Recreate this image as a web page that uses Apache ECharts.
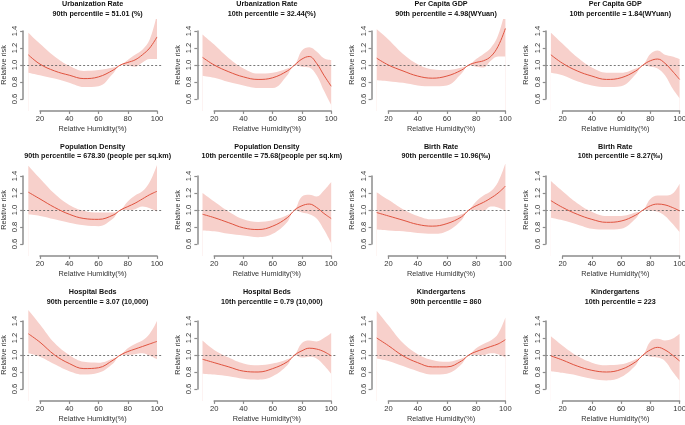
<!DOCTYPE html>
<html><head><meta charset="utf-8">
<script src="https://cdn.jsdelivr.net/npm/echarts@6/dist/echarts.min.js"></script>
<style>html,body{margin:0;padding:0;background:#fff}#c{width:685px;height:425px}</style>
</head><body><div id="c"></div>
<script>
const humidity = [12, 20, 30, 40, 50, 60, 70, 75, 80, 85, 90, 95, 100];
const xTicks = [20, 40, 60, 80, 100];
const yTicks = [0.6, 0.8, 1.0, 1.2, 1.4];
const yLim = [0.5, 1.5];
const refRisk = 1.0;

const titleMain = ['Urbanization Rate','Urbanization Rate','Per Capita GDP','Per Capita GDP',
  'Population Density','Population Density','Birth Rate','Birth Rate',
  'Hospital Beds','Hospital Beds','Kindergartens','Kindergartens'];
const titleSub = ['90th percentile = 51.01 (%)','10th percentile = 32.44(%)',
  '90th percentile = 4.98(WYuan)','10th percentile = 1.84(WYuan)',
  '90th percentile = 678.30 (people per sq.km)','10th percentile = 75.68(people per sq.km)',
  '90th percentile = 10.96(\u2030)','10th percentile = 8.27(\u2030)',
  '90th percentile = 3.07 (10,000)','10th percentile = 0.79 (10,000)',
  '90th percentile = 860','10th percentile = 223'];

const urb90Est = [1.12,1.01,0.93,0.88,0.84,0.86,0.94,1.00,1.03,1.06,1.12,1.20,1.33];
const urb90Lo  = [0.91,0.88,0.84,0.79,0.74,0.75,0.90,1.00,0.99,0.98,1.03,1.07,1.07];
const urb90Hi  = [1.38,1.25,1.10,0.99,0.93,0.94,0.97,1.00,1.06,1.12,1.18,1.30,1.60];

const urb10Est = [1.09,1.00,0.92,0.86,0.83,0.85,0.93,1.00,1.07,1.10,1.02,0.88,0.75];
const urb10Lo  = [0.875,0.85,0.80,0.76,0.73,0.73,0.88,1.00,0.98,0.97,0.88,0.70,0.53];
const urb10Hi  = [1.36,1.24,1.08,0.96,0.90,0.91,0.96,1.00,1.17,1.21,1.16,1.08,1.06];

const gdp90Est = [1.08,1.00,0.93,0.87,0.845,0.87,0.94,1.00,1.03,1.05,1.10,1.22,1.43];
const gdp90Lo  = [0.82,0.81,0.79,0.76,0.75,0.76,0.90,1.00,0.98,0.97,1.05,1.10,1.10];
const gdp90Hi  = [1.42,1.30,1.13,1.01,0.95,0.94,0.97,1.00,1.07,1.13,1.20,1.35,1.65];

const gdp10Est = [1.12,1.02,0.93,0.87,0.83,0.85,0.93,1.00,1.05,1.07,1.02,0.93,0.83];
const gdp10Lo  = [0.91,0.88,0.81,0.76,0.74,0.75,0.89,1.00,0.98,0.96,0.88,0.73,0.61];
const gdp10Hi  = [1.38,1.25,1.09,0.97,0.91,0.91,0.96,1.00,1.13,1.17,1.12,1.10,1.07];

const pop90Est = [1.21,1.13,1.03,0.95,0.90,0.89,0.94,1.00,1.04,1.08,1.13,1.18,1.22];
const pop90Lo  = [0.95,0.93,0.89,0.85,0.82,0.81,0.90,1.00,1.00,1.01,1.04,1.02,0.98];
const pop90Hi  = [1.52,1.37,1.19,1.06,0.99,0.97,0.97,1.00,1.10,1.17,1.22,1.33,1.53];

const pop10Est = [0.95,0.91,0.85,0.79,0.77,0.81,0.91,1.00,1.05,1.07,1.03,0.96,0.90];
const pop10Lo  = [0.76,0.75,0.72,0.70,0.68,0.72,0.86,1.00,0.97,0.95,0.90,0.77,0.61];
const pop10Hi  = [1.20,1.10,0.98,0.89,0.86,0.88,0.94,1.00,1.16,1.18,1.16,1.23,1.33];

const birth90Est = [0.97,0.93,0.88,0.83,0.81,0.84,0.92,1.00,1.05,1.09,1.14,1.20,1.28];
const birth90Lo  = [0.77,0.76,0.75,0.73,0.72,0.75,0.88,1.00,1.00,0.99,1.04,1.03,0.99];
const birth90Hi  = [1.21,1.12,1.01,0.93,0.89,0.91,0.95,1.00,1.10,1.17,1.22,1.33,1.55];

const birth10Est = [1.11,1.03,0.95,0.89,0.855,0.87,0.94,1.00,1.05,1.07,1.06,1.03,0.99];
const birth10Lo  = [0.91,0.88,0.83,0.78,0.77,0.78,0.90,1.00,0.99,0.98,0.93,0.84,0.74];
const birth10Hi  = [1.34,1.22,1.08,0.98,0.93,0.93,0.97,1.00,1.13,1.17,1.17,1.19,1.31];

const beds90Est = [1.25,1.15,1.00,0.90,0.84,0.85,0.94,1.00,1.04,1.07,1.10,1.13,1.16];
const beds90Lo  = [1.02,0.98,0.89,0.81,0.77,0.79,0.90,1.00,1.00,1.01,1.02,0.99,0.95];
const beds90Hi  = [1.53,1.36,1.14,1.00,0.92,0.91,0.96,1.00,1.08,1.13,1.17,1.25,1.40];

const beds10Est = [0.95,0.91,0.86,0.81,0.80,0.84,0.92,1.00,1.05,1.08,1.07,1.04,0.99];
const beds10Lo  = [0.78,0.77,0.75,0.72,0.71,0.75,0.88,1.00,0.97,0.98,0.96,0.88,0.78];
const beds10Hi  = [1.17,1.06,0.97,0.90,0.88,0.90,0.95,1.00,1.14,1.17,1.16,1.20,1.26];

const kind90Est = [1.20,1.11,0.99,0.91,0.86,0.86,0.93,1.00,1.04,1.07,1.10,1.13,1.18];
const kind90Lo  = [0.96,0.93,0.87,0.81,0.77,0.78,0.89,1.00,1.00,1.00,1.02,1.01,0.97];
const kind90Hi  = [1.52,1.35,1.14,1.01,0.94,0.92,0.96,1.00,1.08,1.13,1.17,1.25,1.44];

const kind10Est = [0.99,0.94,0.87,0.82,0.80,0.83,0.92,1.00,1.06,1.09,1.06,1.00,0.93];
const kind10Lo  = [0.81,0.79,0.76,0.72,0.70,0.74,0.88,1.00,0.98,0.97,0.93,0.81,0.70];
const kind10Hi  = [1.22,1.11,0.99,0.91,0.88,0.89,0.95,1.00,1.16,1.19,1.17,1.19,1.25];

const panels = [
  [urb90Est, urb90Lo, urb90Hi], [urb10Est, urb10Lo, urb10Hi],
  [gdp90Est, gdp90Lo, gdp90Hi], [gdp10Est, gdp10Lo, gdp10Hi],
  [pop90Est, pop90Lo, pop90Hi], [pop10Est, pop10Lo, pop10Hi],
  [birth90Est, birth90Lo, birth90Hi], [birth10Est, birth10Lo, birth10Hi],
  [beds90Est, beds90Lo, beds90Hi], [beds10Est, beds10Lo, beds10Hi],
  [kind90Est, kind90Lo, kind90Hi], [kind10Est, kind10Lo, kind10Hi]
];

// R-style 4% axis extension
const xr = humidity[humidity.length - 1] - humidity[0];
const xMin = humidity[0] - 0.04 * xr, xMax = humidity[humidity.length - 1] + 0.04 * xr;
const yr = yLim[1] - yLim[0];
const yMin = yLim[0] - 0.04 * yr, yMax = yLim[1] + 0.04 * yr;

const LINE = '#E0533F', BAND = '#F7D0CB', AXIS = '#8c8c8c', FONT = 'Liberation Sans, Arial, sans-serif';
const colStep = 174.2, rowStep = 145, pxPerX = 1.4625, pxPerY = 85;
const titleTop1 = [0.4, 143.4, 288.8], titleTop2 = [10.2, 152.8, 298.1];

const option = { animation: false, grid: [], xAxis: [], yAxis: [], series: [], title: [] };

panels.forEach((p, i) => {
  const c = i % 4, r = Math.floor(i / 4);
  const ox = c * colStep, y1 = 65 + r * rowStep;
  const px = v => 40 + ox + (v - xTicks[0]) * pxPerX;
  const py = v => y1 - (v - 1) * pxPerY;
  const gD = option.grid.length, gA = gD + 1;
  option.grid.push({ left: px(xMin), top: py(yMax), width: px(xMax) - px(xMin), height: py(yMin) - py(yMax),
    containLabel: false, outerBoundsMode: 'none' });
  option.grid.push({ left: px(xTicks[0]), top: py(yTicks[4]), width: px(xTicks[4]) - px(xTicks[0]),
    height: py(yTicks[0]) - py(yTicks[4]), containLabel: false, outerBoundsMode: 'none' });
  const ax = option.xAxis.length, ay = option.yAxis.length;
  option.xAxis.push({ gridIndex: gD, type: 'value', min: xMin, max: xMax, position: 'bottom',
    axisLine: { show: false, onZero: false }, axisTick: { show: false }, axisLabel: { show: false }, splitLine: { show: false },
    name: 'Relative Humidity(%)', nameLocation: 'middle', nameGap: 15,
    nameTextStyle: { fontSize: 7.3, color: '#333', fontFamily: FONT } });
  option.yAxis.push({ gridIndex: gD, type: 'value', min: yMin, max: yMax, position: 'left',
    axisLine: { show: false, onZero: false }, axisTick: { show: false }, axisLabel: { show: false }, splitLine: { show: false },
    name: 'Relative risk', nameLocation: 'middle', nameGap: 16,
    nameTextStyle: { fontSize: 7.3, color: '#333', fontFamily: FONT } });
  option.xAxis.push({ show: true, gridIndex: gA, type: 'value', position: 'bottom',
    min: xTicks[0], max: xTicks[4], interval: xTicks[1] - xTicks[0],
    offset: py(yMin) - py(yTicks[0]), z: 10,
    axisLine: { show: true, onZero: false, lineStyle: { color: AXIS, width: 1.5, opacity: 1 } },
    axisTick: { show: true, inside: false, length: 3, lineStyle: { color: AXIS, width: 1.2 } },
    axisLabel: { show: true, fontSize: 7.6, color: '#333', margin: 4, fontFamily: FONT },
    splitLine: { show: false } });
  option.yAxis.push({ show: true, gridIndex: gA, type: 'value', position: 'left',
    min: yTicks[0], max: yTicks[4], interval: 0.2,
    offset: px(xTicks[0]) - px(xMin), z: 10,
    axisLine: { show: true, onZero: false, lineStyle: { color: AXIS, width: 1.5, opacity: 1 } },
    axisTick: { show: true, inside: false, length: 3, lineStyle: { color: AXIS, width: 1.2 } },
    axisLabel: { show: true, fontSize: 7.6, color: '#333', margin: 4, rotate: 90, fontFamily: FONT,
      formatter: v => v.toFixed(1) },
    splitLine: { show: false } });
  const [est, lo, hi] = p;
  // upper bound filled down to the axis floor, lower bound covered in white
  option.series.push({ type: 'line', xAxisIndex: ax, yAxisIndex: ay, smooth: 0.4, z: 2,
    symbol: 'none', silent: true, lineStyle: { width: 0, opacity: 0 },
    areaStyle: { color: BAND, opacity: 1, origin: 'start' },
    data: humidity.map((h, k) => [h, hi[k]]) });
  option.series.push({ type: 'line', xAxisIndex: ax, yAxisIndex: ay, smooth: 0.4, z: 3,
    symbol: 'none', silent: true, lineStyle: { width: 0, opacity: 0 },
    areaStyle: { color: '#ffffff', opacity: 1, origin: 'start' },
    data: humidity.map((h, k) => [h, lo[k]]) });
  option.series.push({ type: 'line', xAxisIndex: ax, yAxisIndex: ay, smooth: 0.4, z: 5,
    symbol: 'none', silent: true, lineStyle: { color: LINE, width: 1 },
    data: humidity.map((h, k) => [h, est[k]]),
    markLine: { silent: true, symbol: 'none', label: { show: false }, z: 4,
      lineStyle: { color: '#555', type: [2, 2], width: 0.8 },
      data: [{ yAxis: refRisk }] } });
  option.series.push({ type: 'line', xAxisIndex: ax + 1, yAxisIndex: ay + 1, data: [], silent: true, symbol: 'none' });
  const cx = (px(xMin) + px(xMax)) / 2;
  option.title.push({ text: titleMain[i], left: cx, top: titleTop1[r], textAlign: 'center', padding: 0,
    textStyle: { fontSize: 7.2, fontWeight: 'bold', color: '#111', fontFamily: FONT } });
  option.title.push({ text: titleSub[i], left: cx + 5, top: titleTop2[r], textAlign: 'center', padding: 0,
    textStyle: { fontSize: 7.2, fontWeight: 'bold', color: '#111', fontFamily: FONT } });
});

const chart = echarts.init(document.getElementById('c'), null, { renderer: 'canvas' });
chart.setOption(option);
</script>
</body></html>
